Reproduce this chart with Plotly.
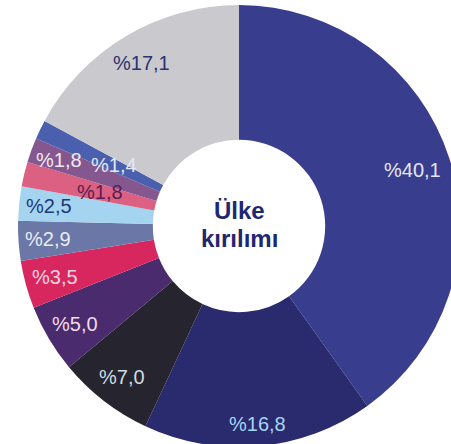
import math
import plotly.graph_objects as go

# Country breakdown (share, %), clockwise from 12 o'clock
countries = ["A", "B", "C", "D", "E", "F", "G", "H", "I", "J", "Diğer"]
shares = [40.1, 16.8, 7.0, 5.0, 3.5, 2.9, 2.5, 1.8, 1.8, 1.4, 17.1]
center_lines = ["Ülke", "kırılımı"]

slice_colors = ["#393d8d", "#2a2a6f", "#25242f", "#4a2b6d", "#d8265f",
                "#6b77a7", "#a5d4f1", "#db6082", "#85578f", "#4a60ae", "#c9c9ce"]
label_colors = ["#e4e7f6", "#a6d6f2", "#cfdce4", "#f2dcea", "#f6d4e0",
                "#e9edf6", "#1d3a78", "#5a1e50", "#f1e9f2", "#e2e8f6", "#2b3470"]
# radial position of each label as a fraction of the outer radius
label_radius = [0.825, 0.9, 0.865, 0.865, 0.865, 0.865, 0.865, 0.645, 0.865, 0.63, 0.86]

W, H = 460, 447
left, top, R = 18, 5, 221
hole = 0.39

cx, cy = left + R, top + R

fig = go.Figure(go.Pie(
    labels=countries,
    values=shares,
    sort=False,
    direction="clockwise",
    rotation=0,
    hole=hole,
    marker=dict(colors=slice_colors, line=dict(width=0)),
    textinfo="none",
    hoverinfo="skip",
    showlegend=False,
    domain=dict(x=[left / W, (left + 2 * R) / W], y=[1 - (top + 2 * R) / H, 1 - top / H]),
))

# value labels placed at each slice's mid-angle
total = sum(shares)
acc = 0.0
for v, col, rf in zip(shares, label_colors, label_radius):
    mid = (acc + v / 2) / total * 2 * math.pi
    acc += v
    px = cx + rf * R * math.sin(mid)
    py = cy - rf * R * math.cos(mid)
    fig.add_annotation(
        x=px / W, y=1 - py / H, xref="paper", yref="paper",
        text=f"%{v:.1f}".replace(".", ","), showarrow=False,
        font=dict(family="Liberation Sans, Arial, sans-serif", size=20, color=col),
        xanchor="center", yanchor="middle",
    )

# two-line title in the hole
for line, dy in zip(center_lines, (-16, 12)):
    fig.add_annotation(
        x=cx / W, y=1 - (cy + dy) / H, xref="paper", yref="paper",
        text=f"<b>{line}</b>", showarrow=False,
        font=dict(family="Liberation Sans, Arial, sans-serif", size=24, color="#1f2770"),
        xanchor="center", yanchor="middle",
    )

fig.update_layout(
    width=W, height=H, autosize=False,
    margin=dict(l=0, r=0, t=0, b=0),
    paper_bgcolor="white", plot_bgcolor="white",
)

fig.write_html("out.html")
